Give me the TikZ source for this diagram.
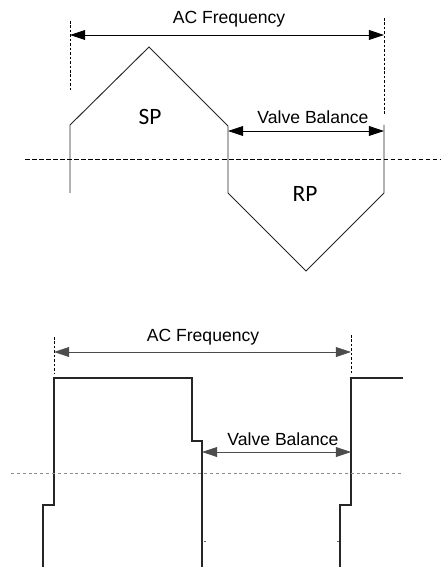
\documentclass[tikz,border=0pt]{standalone}
\usepackage{fontspec}
\setmainfont{Liberation Sans}
\newfontfamily\calfont{Carlito}
\usetikzlibrary{arrows.meta}

\tikzset{
  dimline/.style={{Triangle[length=13pt,width=8.5pt]}-{Triangle[length=13pt,width=8.5pt]}, line width=0.6pt},
  wave/.style={line width=0.8pt, line join=miter},
  guide/.style={dash pattern=on 2.2pt off 1.6pt, line width=0.6pt},
  lbl/.style={font=\fontsize{15}{17}\selectfont, inner sep=0pt, anchor=base},
  pole/.style={font=\calfont\fontsize{20}{22}\selectfont, inner sep=0pt, anchor=base}
}

\begin{document}
\begin{tikzpicture}[x=0.03cm, y=-0.03cm]
  \useasboundingbox (0,0) rectangle (440,567);

  % top: triangle-ish wave
  \coordinate (tl) at (70,35);
  \coordinate (tr) at (384,35);
  \coordinate (vl) at (228,131);
  \coordinate (vr) at (384,131);

  \node (acf1) [lbl] at (229,24) {AC Frequency};
  \node (vb1) [lbl] at (313,124) {Valve Balance};
  \node (sp) [pole] at (150,125) {SP};
  \node (rp) [pole] at (305,202) {RP};

  \draw[guide] (70,21) -- (70,92);
  \draw[guide] (384,18) -- (384,115);
  \draw[dimline] (tl) -- (tr);
  \draw[dimline] (vl) -- (vr);

  \draw[wave, black!85] (70,193) -- (70,125) -- (149,47) -- (228,126)
    -- (228,193) -- (306,271) -- (384,193) -- (384,125);
  \draw[dash pattern=on 4pt off 2pt, line width=0.8pt] (25,159) -- (440,159);

  % bottom: square wave
  \coordinate (bl) at (54,352);
  \coordinate (br) at (351,352);
  \coordinate (wl) at (202,452);
  \coordinate (wr) at (351,452);

  \node (acf2) [lbl] at (203,341) {AC Frequency};
  \node (vb2) [lbl] at (283,445) {Valve Balance};

  \draw[guide] (54,337) -- (54,373);
  \draw[guide] (351,335) -- (351,373);
  \draw[dimline, black!70] (bl) -- (br);
  \draw[dimline, black!70] (wl) -- (wr);

  \draw[wave, line width=0.9pt, black!85] (43,567) -- (43,505) -- (54,505) -- (54,378)
    -- (192,378) -- (192,441) -- (202,441) -- (202,567);
  \draw[wave, line width=0.9pt, black!85] (340,567) -- (340,505) -- (351,505) -- (351,378)
    -- (403,378);
  \draw[black!45, dash pattern=on 2.5pt off 2.5pt, line width=0.7pt] (11,473) -- (403,473);
  \draw[black!60, line width=0.5pt] (204,541) -- (206,541);
  \draw[black!60, line width=0.5pt] (337,541) -- (339,541);
\end{tikzpicture}
\end{document}
